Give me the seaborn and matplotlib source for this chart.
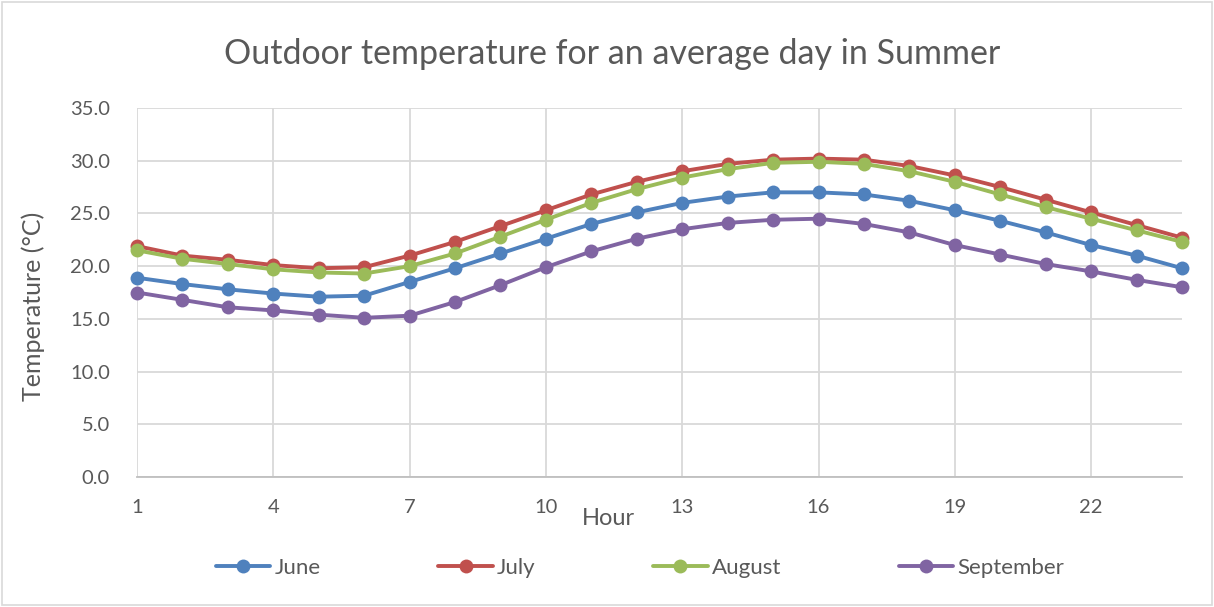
import matplotlib
matplotlib.use("Agg")
import matplotlib.pyplot as plt
import seaborn as sns
import numpy as np
import pandas as pd
from matplotlib.patches import Rectangle

# Hourly outdoor temperatures (°C)
hours = list(range(1, 25))
june = [18.9, 18.3, 17.8, 17.4, 17.1, 17.2, 18.5, 19.8, 21.2, 22.6, 24.0, 25.1,
        26.0, 26.6, 27.0, 27.0, 26.8, 26.2, 25.3, 24.3, 23.2, 22.0, 21.0, 19.8]
july = [21.9, 21.0, 20.6, 20.1, 19.8, 19.9, 21.0, 22.3, 23.8, 25.3, 26.8, 28.0,
        29.0, 29.7, 30.1, 30.2, 30.1, 29.5, 28.6, 27.5, 26.3, 25.1, 23.9, 22.7]
august = [21.5, 20.7, 20.2, 19.7, 19.4, 19.3, 20.0, 21.2, 22.8, 24.4, 26.0, 27.3,
          28.4, 29.2, 29.8, 29.9, 29.7, 29.0, 28.0, 26.8, 25.6, 24.5, 23.4, 22.3]
september = [17.5, 16.8, 16.1, 15.8, 15.4, 15.1, 15.3, 16.6, 18.2, 19.9, 21.4, 22.6,
             23.5, 24.1, 24.4, 24.5, 24.0, 23.2, 22.0, 21.1, 20.2, 19.5, 18.7, 18.0]

series_names = ["June", "July", "August", "September"]
series_values = [june, july, august, september]
colors = ["#4F81BD", "#C0504D", "#9BBB59", "#8064A2"]

x_ticks = [1, 4, 7, 10, 13, 16, 19, 22]
y_ticks = [0, 5, 10, 15, 20, 25, 30, 35]

sns.set_theme(style="white")
plt.rcParams["font.family"] = ["Lato", "DejaVu Sans"]

text_gray = "#595959"

fig = plt.figure(figsize=(12.14, 6.07), dpi=100)
ax = fig.add_axes([137 / 1214, 1 - 477 / 607, (1182 - 137) / 1214, (477 - 108) / 607])

for name, vals, col in zip(series_names, series_values, colors):
    df = pd.DataFrame({"Hour": hours, "Temp": vals})
    sns.lineplot(data=df, x="Hour", y="Temp", ax=ax, color=col, linewidth=2.8,
                 marker="o", markersize=10, markeredgewidth=0, label=name,
                 clip_on=False, zorder=3)

ax.set_xlim(1, 24)
ax.set_ylim(0, 35)
ax.set_xticks(x_ticks)
ax.set_yticks(y_ticks)
ax.set_yticklabels([f"{v:.1f}" for v in y_ticks])
ax.grid(True, color="#d9d9d9", linewidth=1.3)
ax.set_axisbelow(True)
for side in ["top", "right", "left"]:
    ax.spines[side].set_visible(False)
ax.spines["bottom"].set_color("#bfbfbf")
ax.spines["bottom"].set_linewidth(1.3)
ax.tick_params(axis="both", length=0, labelsize=14.5, colors=text_gray)
ax.tick_params(axis="x", pad=16)
ax.tick_params(axis="y", pad=19.5)

ax.set_xlabel("Hour", fontsize=17, color=text_gray)
ax.xaxis.set_label_coords((608 - 137) / 1045, -(525 - 477) / 369)
ax.xaxis.label.set_va("baseline")
ax.set_ylabel("Temperature (°C)", fontsize=18, color=text_gray)
ax.yaxis.set_label_coords(-(137 - 45) / 1045, (477 - 306) / 369)

fig.text(612.5 / 1214, 1 - 64 / 607, "Outdoor temperature for an average day in Summer",
         ha="center", va="baseline", fontsize=24.5, color=text_gray)

leg = ax.legend(loc="center", bbox_to_anchor=((640 - 137) / 1045, -(568 - 477) / 369),
                ncol=4, frameon=False, fontsize=16, handlelength=2.45,
                handletextpad=0.18, columnspacing=5.3, labelcolor=text_gray,
                borderpad=0)

# Light chart border
fig.patches.append(Rectangle((0.002, 0.003), 0.996, 0.994, transform=fig.transFigure,
                             fill=False, edgecolor="#d9d9d9", linewidth=1.2))

fig.savefig("out.png", dpi=100)
